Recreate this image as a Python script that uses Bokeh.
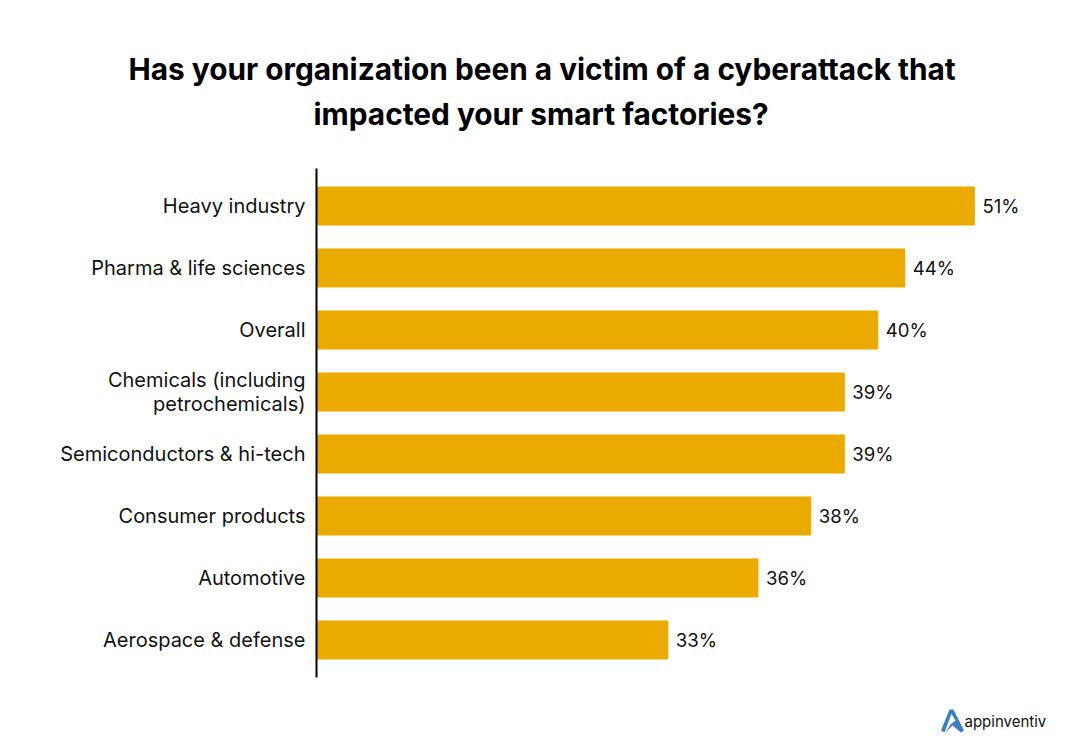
from bokeh.plotting import figure
from bokeh.models import ColumnDataSource, Range1d, Label, PolyAnnotation, LinearAxis, FixedTicker, Title
from bokeh.core.properties import value
from bokeh.embed import file_html
from bokeh.resources import INLINE

categories = ["Heavy industry", "Pharma & life sciences", "Overall",
              "Chemicals (including\npetrochemicals)", "Semiconductors & hi-tech",
              "Consumer products", "Automotive", "Aerospace & defense"]
# drawn bar lengths (they are not proportional to the printed labels)
bar_lengths = [51.0, 45.6, 43.5, 40.9, 40.9, 38.3, 34.2, 27.2]
value_labels = ["51%", "44%", "40%", "39%", "39%", "38%", "36%", "33%"]
title_lines = ["Has your organization been a victim of a cyberattack that",
               "impacted your smart factories?"]
brand = "appinventiv"

FONT = "Inter"
W, H = 1072, 746
FRAME_LEFT, FRAME_TOP = 316, 139
BAR_X0 = 317
FIRST_ROW = 205.5    # pixel row of the first bar's centre
ROW_STEP = 62
PX_PER_UNIT = 12.88

def sx(v):
    return v - FRAME_LEFT

def sy(v):
    return H - v

rows = list(range(len(categories)))
src = ColumnDataSource(dict(row=rows, val=bar_lengths, lab=value_labels))

p = figure(width=W, height=H, output_backend="svg", toolbar_location=None,
           x_range=Range1d((FRAME_LEFT - BAR_X0) / PX_PER_UNIT, (W - BAR_X0) / PX_PER_UNIT),
           y_range=Range1d((H - FIRST_ROW) / ROW_STEP, (FRAME_TOP - FIRST_ROW) / ROW_STEP),
           x_axis_location=None, y_axis_location=None,
           min_border_left=FRAME_LEFT, min_border_right=0, min_border_top=FRAME_TOP, min_border_bottom=0,
           outline_line_color=None, background_fill_color="white")
p.grid.visible = False
p.hbar(y="row", right="val", height=0.613, source=src, color="#EAAA00")
p.text(x="val", y="row", text="lab", source=src, x_offset=8, text_baseline="middle",
       text_font=value(FONT), text_font_size="18.6px", text_color="#111111")

ax = LinearAxis(ticker=FixedTicker(ticks=rows),
                major_label_overrides=dict(zip(rows, categories)),
                bounds=((168 - FIRST_ROW) / ROW_STEP, (677 - FIRST_ROW) / ROW_STEP))
ax.axis_line_color = "black"
ax.axis_line_width = 2
ax.major_tick_line_color = None
ax.minor_tick_line_color = None
ax.major_label_standoff = 5
ax.major_label_text_font = FONT
ax.major_label_text_font_size = "20px"
ax.major_label_text_color = "#111111"
ax.major_label_text_line_height = 1.0
p.add_layout(ax, "left")

for line, start, gap in zip(title_lines[::-1], (313, 128), (15, 0)):
    p.add_layout(Title(text=line, align="left", offset=sx(start), standoff=gap,
                       text_font=FONT, text_font_size="29.8px", text_font_style="bold",
                       text_color="black"), "above")

p.add_layout(Label(x=sx(964), y=sy(721), x_units="screen", y_units="screen", text=brand,
                   text_font=FONT, text_font_size="15px", text_align="left",
                   text_baseline="middle", text_color="#111111"))
logo_x = [949, 953, 963.5, 960.5, 952, 945, 950, 955, 951, 944, 940.5]
logo_y = [709, 709, 730, 732, 725, 732, 724, 720, 713.5, 732, 730]
p.add_layout(PolyAnnotation(xs=[sx(v) for v in logo_x], ys=[sy(v) for v in logo_y],
                            xs_units="screen", ys_units="screen",
                            fill_color="#3B7FBF", fill_alpha=1, line_color=None))

open("out.html", "w").write(file_html(p, INLINE))
